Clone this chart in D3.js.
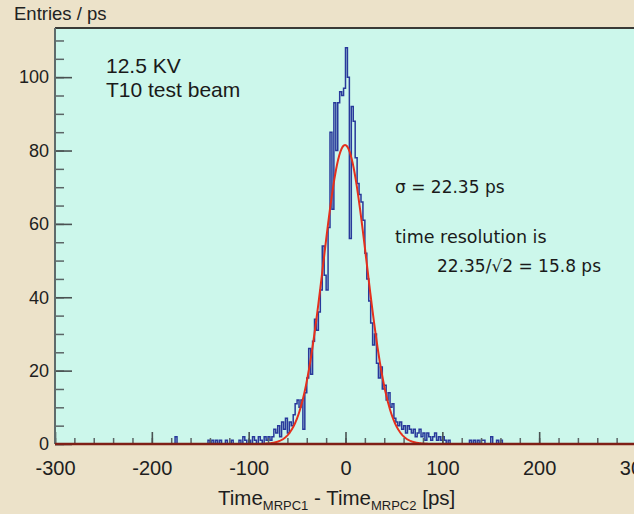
<!DOCTYPE html>
<html>
<head>
<meta charset="utf-8">
<script src="https://cdn.jsdelivr.net/npm/d3@7"></script>
<style>
  body { margin: 0; background: #ece2c9; }
  svg { display: block; }
</style>
</head>
<body>
<div id="chart"></div>
<script>
// Histogram of time differences, 2 ps bins starting at binStart
var binStart = -180;
var binWidth = 2;
var counts = [
  0, 0, 2, 0, 0, 0, 0, 0, 0, 0,
  0, 0, 0, 0, 0, 0, 0, 0, 0, 1,
  0, 1, 0, 1, 0, 1, 0, 0, 1, 0,
  0, 1, 0, 0, 0, 1, 0, 2, 1, 0,
  1, 0, 2, 1, 0, 2, 1, 0, 2, 1,
  2, 1, 2, 4, 3, 5, 2, 6, 4, 7,
  3, 6, 5, 8, 11, 12, 10, 12, 4, 14,
  18, 26, 19, 28, 34, 31, 36, 42, 54, 46,
  42, 59, 85, 64, 93, 80, 93, 96, 95, 97,
  108, 100, 56, 92, 88, 78, 71, 68, 66, 61,
  52, 45, 39, 33, 27, 30, 22, 18, 21, 15,
  16, 12, 14, 10, 11, 7, 6, 5, 6, 4,
  5, 3, 5, 4, 3, 4, 2, 3, 4, 2,
  3, 1, 3, 2, 1, 2, 3, 1, 2, 1,
  2, 1, 0, 1, 0, 0, 0, 0, 0, 0,
  0, 0, 0, 0, 1, 0, 1, 0, 1, 0,
  1, 1, 0, 0, 0, 2, 0, 0, 1, 0,
  1, 0, 0, 0, 0
];

// Gaussian fit parameters
var fitConstant = 81.5;
var fitMean = -0.5;
var fitSigma = 22.35;
var fitRange = [-85, 85];

// Axis ticks
var xMajor = [-300, -200, -100, 0, 100, 200, 300];
var yMajor = [0, 20, 40, 60, 80, 100];

// Canvas and plot frame
var W = 634, H = 514;
var plot = { left: 55, right: 636, top: 28, bottom: 444 };

var svg = d3.select("#chart")
  .append("svg")
  .attr("width", W)
  .attr("height", H);

svg.append("rect")
  .attr("width", W)
  .attr("height", H)
  .attr("fill", "#ece2c9");

var x = d3.scaleLinear()
  .domain([-300, 300])
  .range([plot.left, plot.right]);

var y = d3.scaleLinear()
  .domain([0, 113.4])
  .range([plot.bottom, plot.top]);

// Plot area
svg.append("rect")
  .attr("x", plot.left)
  .attr("y", plot.top)
  .attr("width", plot.right - plot.left)
  .attr("height", plot.bottom - plot.top)
  .attr("fill", "#ccf7eb");

// Histogram outline
var pts = [[binStart, 0]];
counts.forEach(function (c, i) {
  var lo = binStart + i * binWidth;
  pts.push([lo, c]);
  pts.push([lo + binWidth, c]);
});
pts.push([binStart + counts.length * binWidth, 0]);

svg.append("path")
  .datum(pts)
  .attr("fill", "none")
  .attr("stroke", "#28399b")
  .attr("stroke-width", 1.5)
  .attr("d", d3.line()
    .x(function (d) { return x(d[0]); })
    .y(function (d) { return y(d[1]); })
  );

// Fit curve
var fitPts = d3.range(fitRange[0], fitRange[1] + 0.5, 0.5);
svg.append("path")
  .datum(fitPts)
  .attr("fill", "none")
  .attr("stroke", "#e5301c")
  .attr("stroke-width", 2)
  .attr("d", d3.line()
    .x(function (d) { return x(d); })
    .y(function (d) {
      var z = (d - fitMean) / fitSigma;
      return y(fitConstant * Math.exp(-0.5 * z * z));
    })
  );

// plain hyphen for negative labels, like the original
var plainFormat = function (d) { return String(d); };

// Y axis: major and minor ticks pointing inward
var yMinorAxis = svg.append("g")
  .attr("transform", "translate(" + plot.left + ",0)")
  .call(d3.axisLeft(y).tickValues(d3.range(0, 113, 5)).tickSize(-9).tickFormat(""));
yMinorAxis.select(".domain").remove();
yMinorAxis.selectAll("line").attr("stroke", "#5b6566").attr("stroke-width", 1.5);

var yAxis = svg.append("g")
  .attr("transform", "translate(" + plot.left + ",0)")
  .call(d3.axisLeft(y).tickValues(yMajor).tickSize(-17).tickPadding(6).tickFormat(plainFormat));
yAxis.select(".domain").remove();
yAxis.selectAll("line").attr("stroke", "#4a5252").attr("stroke-width", 1.6);
yAxis.selectAll("text")
  .style("font-family", "'Liberation Sans', Arial, sans-serif")
  .style("font-size", "18px")
  .attr("fill", "#1e1e1e");

// X axis: major and minor ticks pointing up
var xMinorAxis = svg.append("g")
  .attr("transform", "translate(0," + plot.bottom + ")")
  .call(d3.axisBottom(x).tickValues(d3.range(-300, 301, 20)).tickSize(-6).tickFormat(""));
xMinorAxis.select(".domain").remove();
xMinorAxis.selectAll("line").attr("stroke", "#5b6566").attr("stroke-width", 1.5);

var xAxis = svg.append("g")
  .attr("transform", "translate(0," + plot.bottom + ")")
  .call(d3.axisBottom(x).tickValues(xMajor).tickSize(-12).tickPadding(17).tickFormat(plainFormat));
xAxis.select(".domain").remove();
xAxis.selectAll("line").attr("stroke", "#4a5252").attr("stroke-width", 1.6);
xAxis.selectAll("text")
  .style("font-family", "'Liberation Sans', Arial, sans-serif")
  .style("font-size", "20px")
  .attr("fill", "#1e1e1e");

// Frame lines
svg.append("line")
  .attr("x1", plot.left).attr("x2", W)
  .attr("y1", plot.top).attr("y2", plot.top)
  .attr("stroke", "#3a3a36")
  .attr("stroke-width", 2);
svg.append("line")
  .attr("x1", plot.left).attr("x2", plot.left)
  .attr("y1", plot.top).attr("y2", plot.bottom)
  .attr("stroke", "#5f6b6b")
  .attr("stroke-width", 2);
svg.append("line")
  .attr("x1", plot.left).attr("x2", W)
  .attr("y1", plot.bottom).attr("y2", plot.bottom)
  .attr("stroke", "#7e1f16")
  .attr("stroke-width", 2.5);

// Texts
var helv = "'Liberation Sans', Arial, sans-serif";
var lucida = "'DejaVu Sans', sans-serif";

svg.append("text")
  .attr("x", 14).attr("y", 20)
  .style("font-family", helv).style("font-size", "18.5px")
  .attr("fill", "#222")
  .text("Entries / ps");

svg.append("text")
  .attr("x", 106).attr("y", 73)
  .style("font-family", helv).style("font-size", "21px")
  .attr("fill", "#1a1a1a")
  .text("12.5 KV");

svg.append("text")
  .attr("x", 106).attr("y", 97)
  .style("font-family", helv).style("font-size", "21px")
  .attr("fill", "#1a1a1a")
  .text("T10 test beam");

svg.append("text")
  .attr("x", 395).attr("y", 193)
  .style("font-family", lucida).style("font-size", "17px")
  .attr("fill", "#1a1a1a")
  .text("\u03c3 = 22.35 ps");

svg.append("text")
  .attr("x", 395).attr("y", 243)
  .style("font-family", lucida).style("font-size", "17.5px")
  .attr("fill", "#1a1a1a")
  .text("time resolution is");

svg.append("text")
  .attr("x", 437).attr("y", 272)
  .style("font-family", lucida).style("font-size", "17px")
  .attr("fill", "#1a1a1a")
  .text("22.35/\u221a2 = 15.8 ps");

// X axis title with subscripts
var title = svg.append("text")
  .attr("x", 218).attr("y", 505)
  .style("font-family", helv).style("font-size", "20.5px")
  .attr("fill", "#1e1e1e");
title.append("tspan").text("Time");
title.append("tspan").attr("dy", 5).style("font-size", "13px").text("MRPC1");
title.append("tspan").attr("dy", -5).text(" - Time");
title.append("tspan").attr("dy", 5).style("font-size", "13px").text("MRPC2");
title.append("tspan").attr("dy", -5).text(" [ps]");
</script>
</body>
</html>
